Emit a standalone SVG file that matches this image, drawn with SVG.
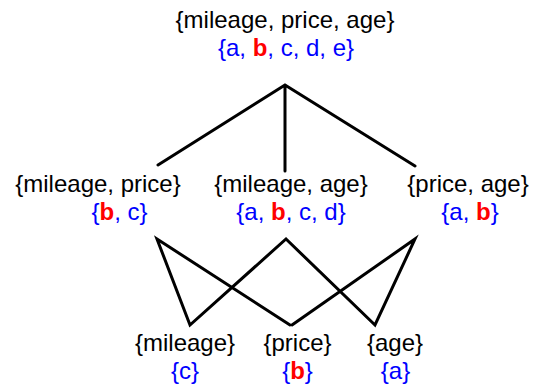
<svg xmlns="http://www.w3.org/2000/svg" width="535" height="385" viewBox="0 0 535 385">
<style>
text{font-family:"Liberation Sans",Arial,sans-serif;font-size:24px;text-anchor:middle}
.k{fill:#000}
.s{fill:#0000FF}
.r{fill:#FF0000;font-weight:bold}
.e{stroke:#000;stroke-width:3;fill:none;stroke-linecap:round;stroke-linejoin:miter}
</style>
<rect width="535" height="385" fill="#fff"/>
<g id="connectors">
<path class="e" d="M158,165 L285,85 L415,166 M285,85 L285,171"/>
<path class="e" d="M290,325 L157,239 L190,325 L286,239 L375,325 L415,239 L292,325"/>
</g>
<g id="n-mpa">
<text class="k" x="285" y="28">{mileage, price, age}</text>
<text class="s" x="286" y="56">{a, <tspan class="r">b</tspan>, c, d, e}</text>
</g>
<g id="n-mp">
<text class="k" x="98" y="192">{mileage, price}</text>
<text class="s" x="119.5" y="220">{<tspan class="r">b</tspan>, c}</text>
</g>
<g id="n-ma">
<text class="k" x="291" y="192">{mileage, age}</text>
<text class="s" x="291" y="220">{a, <tspan class="r">b</tspan>, c, d}</text>
</g>
<g id="n-pa">
<text class="k" x="468" y="192">{price, age}</text>
<text class="s" x="470" y="220">{a, <tspan class="r">b</tspan>}</text>
</g>
<g id="n-m">
<text class="k" x="185" y="351">{mileage}</text>
<text class="s" x="185" y="379">{c}</text>
</g>
<g id="n-p">
<text class="k" x="297.5" y="351">{price}</text>
<text class="s" x="297.5" y="379">{<tspan class="r">b</tspan>}</text>
</g>
<g id="n-a">
<text class="k" x="395" y="351">{age}</text>
<text class="s" x="395.5" y="379">{a}</text>
</g>
</svg>
